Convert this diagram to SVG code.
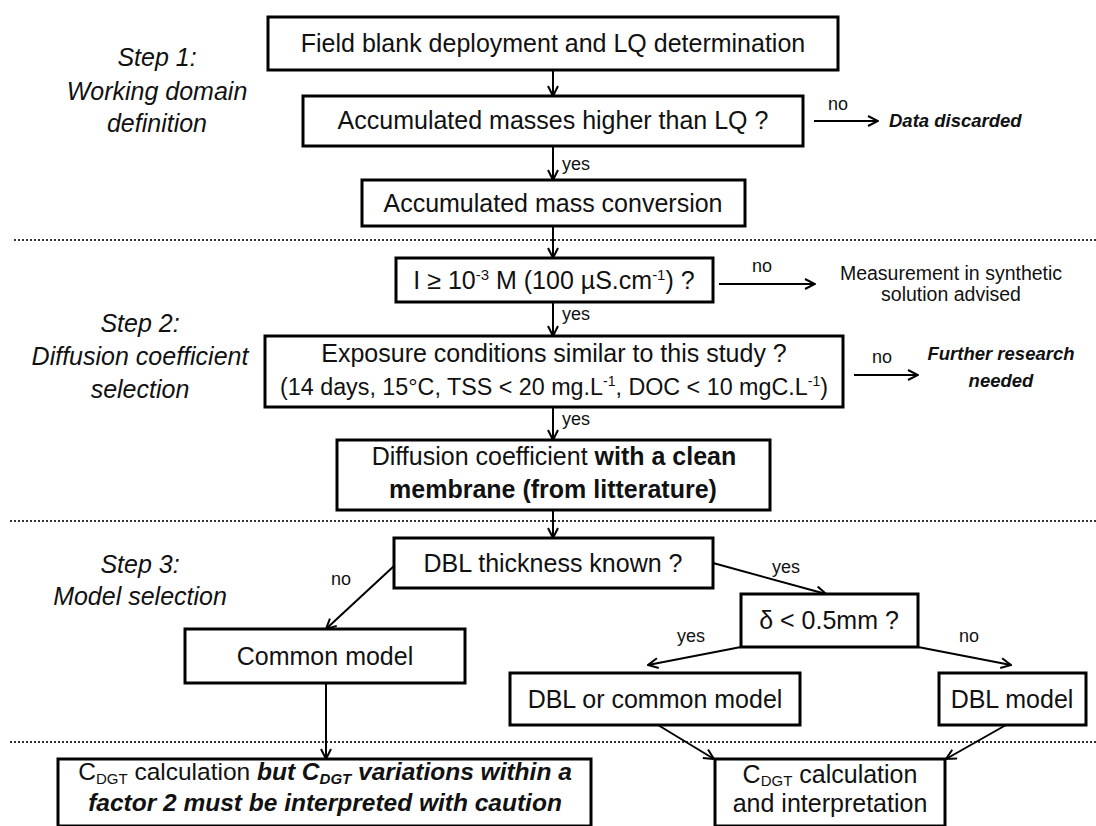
<svg xmlns="http://www.w3.org/2000/svg" width="1096" height="826" viewBox="0 0 1096 826">
<defs>
<style>
.box{fill:#fff;stroke:#000;stroke-width:3}
.t{font-family:"Liberation Sans",Arial,sans-serif;font-size:25px;fill:#111;text-anchor:middle}
.step{font-family:"Liberation Sans",Arial,sans-serif;font-size:25px;font-style:italic;fill:#111;text-anchor:middle}
.lbl{font-family:"Liberation Sans",Arial,sans-serif;font-size:18px;fill:#111}
.out{font-family:"Liberation Sans",Arial,sans-serif;font-size:18.5px;font-weight:bold;font-style:italic;fill:#111}
.note{font-family:"Liberation Sans",Arial,sans-serif;font-size:19.5px;fill:#111;text-anchor:middle}
.b{font-weight:bold}
.bi{font-weight:bold;font-style:italic}
.c{fill:none;stroke:#000;stroke-width:2}
.dot{fill:none;stroke:#333;stroke-width:2;stroke-dasharray:2 2}
</style>
<marker id="ah" viewBox="0 0 12 12" refX="11" refY="6" markerWidth="12" markerHeight="12" markerUnits="userSpaceOnUse" orient="auto">
<path d="M1,1 L11,6 L1,11" fill="none" stroke="#000" stroke-width="2"/>
</marker>
</defs>
<rect width="1096" height="826" fill="#fff"/>

<g id="separators">
<line class="dot" x1="14" y1="240" x2="1096" y2="240"/>
<line class="dot" x1="10" y1="521" x2="1096" y2="521"/>
<line class="dot" x1="10" y1="742" x2="1096" y2="742"/>
</g>

<g id="step1">
<text class="step" x="157" y="66">Step 1:</text>
<text class="step" x="157" y="100">Working domain</text>
<text class="step" x="157" y="132">definition</text>
</g>
<g id="step2">
<text class="step" x="140" y="332">Step 2:</text>
<text class="step" x="140" y="365">Diffusion coefficient</text>
<text class="step" x="140" y="398">selection</text>
</g>
<g id="step3">
<text class="step" x="140" y="573">Step 3:</text>
<text class="step" x="140" y="605">Model selection</text>
</g>

<g id="connectors">
<line class="c" x1="553" y1="70" x2="553" y2="96" marker-end="url(#ah)"/>
<line class="c" x1="553" y1="146" x2="553" y2="180" marker-end="url(#ah)"/>
<line class="c" x1="553" y1="226" x2="553" y2="258" marker-end="url(#ah)"/>
<line class="c" x1="553" y1="302" x2="553" y2="336" marker-end="url(#ah)"/>
<line class="c" x1="553" y1="407" x2="553" y2="440" marker-end="url(#ah)"/>
<line class="c" x1="553" y1="510" x2="553" y2="538" marker-end="url(#ah)"/>
<line class="c" x1="814" y1="121" x2="878" y2="121" marker-end="url(#ah)"/>
<line class="c" x1="719" y1="284" x2="815" y2="284" marker-end="url(#ah)"/>
<line class="c" x1="854" y1="375" x2="918" y2="375" marker-end="url(#ah)"/>
<line class="c" x1="394" y1="566" x2="326" y2="629" marker-end="url(#ah)"/>
<line class="c" x1="713" y1="563" x2="826" y2="594" marker-end="url(#ah)"/>
<line class="c" x1="741" y1="647" x2="648" y2="665" marker-end="url(#ah)"/>
<line class="c" x1="918" y1="647" x2="1011" y2="665" marker-end="url(#ah)"/>
<line class="c" x1="658" y1="725" x2="714" y2="759" marker-end="url(#ah)"/>
<line class="c" x1="1006" y1="725" x2="946" y2="759" marker-end="url(#ah)"/>
<line class="c" x1="326" y1="683" x2="326" y2="759" marker-end="url(#ah)"/>
<text class="lbl" x="562" y="170">yes</text>
<text class="lbl" x="562" y="320">yes</text>
<text class="lbl" x="562" y="425">yes</text>
<text class="lbl" x="838" y="110" text-anchor="middle">no</text>
<text class="lbl" x="762" y="272" text-anchor="middle">no</text>
<text class="lbl" x="882" y="363" text-anchor="middle">no</text>
<text class="lbl" x="341" y="585" text-anchor="middle">no</text>
<text class="lbl" x="786" y="573" text-anchor="middle">yes</text>
<text class="lbl" x="691" y="642" text-anchor="middle">yes</text>
<text class="lbl" x="969" y="642" text-anchor="middle">no</text>
</g>

<g id="n1">
<rect class="box" x="268" y="17" width="570" height="53"/>
<text class="t" x="553" y="52">Field blank deployment and LQ determination</text>
</g>
<g id="n2">
<rect class="box" x="303" y="96" width="500" height="50"/>
<text class="t" x="553" y="129">Accumulated masses higher than LQ ?</text>
</g>
<g id="n2out">
<text class="out" x="889" y="127">Data discarded</text>
</g>
<g id="n3">
<rect class="box" x="362" y="180" width="383" height="46"/>
<text class="t" x="553" y="212">Accumulated mass conversion</text>
</g>
<g id="n4">
<rect class="box" x="396" y="258" width="317" height="44"/>
<text class="t" x="554" y="289">I ≥ 10<tspan font-size="15" dy="-9">-3</tspan><tspan dy="9"> M (100 µS.cm</tspan><tspan font-size="15" dy="-9">-1</tspan><tspan dy="9">) ?</tspan></text>
</g>
<g id="n4out">
<text class="note" x="951" y="280">Measurement in synthetic</text>
<text class="note" x="951" y="301">solution advised</text>
</g>
<g id="n5">
<rect class="box" x="265" y="336" width="578" height="71"/>
<text class="t" x="554" y="362">Exposure conditions similar to this study ?</text>
<text class="t" x="554" y="395" style="font-size:23.3px">(14 days, 15°C, TSS &lt; 20 mg.L<tspan font-size="14" dy="-9">-1</tspan><tspan dy="9">, DOC &lt; 10 mgC.L</tspan><tspan font-size="14" dy="-9">-1</tspan><tspan dy="9">)</tspan></text>
</g>
<g id="n5out">
<text class="out" x="1001" y="360" text-anchor="middle">Further research</text>
<text class="out" x="1001" y="387" text-anchor="middle">needed</text>
</g>
<g id="n6">
<rect class="box" x="337" y="440" width="433" height="70"/>
<text class="t" x="554" y="465">Diffusion coefficient <tspan class="b">with a clean</tspan></text>
<text class="t b" x="553" y="498">membrane (from litterature)</text>
</g>
<g id="n7">
<rect class="box" x="394" y="538" width="319" height="50"/>
<text class="t" x="553" y="572">DBL thickness known ?</text>
</g>
<g id="n8">
<rect class="box" x="185" y="629" width="280" height="54"/>
<text class="t" x="325" y="665">Common model</text>
</g>
<g id="n9">
<rect class="box" x="741" y="594" width="177" height="53"/>
<text class="t" x="829" y="629">δ &lt; 0.5mm ?</text>
</g>
<g id="n10">
<rect class="box" x="510" y="673" width="290" height="52"/>
<text class="t" x="655" y="708">DBL or common model</text>
</g>
<g id="n11">
<rect class="box" x="939" y="673" width="147" height="52"/>
<text class="t" x="1012" y="708">DBL model</text>
</g>
<g id="n12">
<rect class="box" x="58" y="759" width="533" height="67"/>
<text class="t" x="325" y="780" style="font-size:24.5px">C<tspan font-size="15" dy="4">DGT</tspan><tspan dy="-4"> calculation </tspan><tspan class="bi">but C</tspan><tspan class="bi" font-size="15" dy="4">DGT</tspan><tspan class="bi" dy="-4"> variations within a</tspan></text>
<text class="t bi" x="325" y="811" style="font-size:24.5px">factor 2 must be interpreted with caution</text>
</g>
<g id="n13">
<rect class="box" x="715" y="759" width="230" height="67"/>
<text class="t" x="830" y="783">C<tspan font-size="15" dy="3">DGT</tspan><tspan dy="-3"> calculation</tspan></text>
<text class="t" x="830" y="812">and interpretation</text>
</g>
</svg>
